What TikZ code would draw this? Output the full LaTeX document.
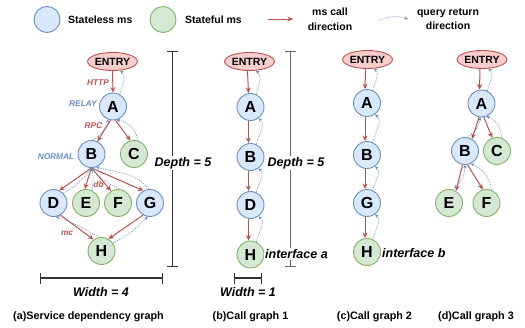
\documentclass[tikz,border=0pt]{standalone}
\usepackage{fontspec}
\setmainfont{Liberation Sans}
\usetikzlibrary{arrows.meta,shapes.geometric}

\definecolor{slF}{HTML}{DAE8FC}
\definecolor{slB}{HTML}{6C8EBF}
\definecolor{sfF}{HTML}{D5E8D4}
\definecolor{sfB}{HTML}{82B366}
\definecolor{enF}{HTML}{F8CECC}
\definecolor{enB}{HTML}{B85450}
\definecolor{callred}{HTML}{B85450}
\definecolor{retblue}{HTML}{6C8EBF}
\definecolor{barA}{HTML}{333333}
\definecolor{barB}{HTML}{666666}

\tikzset{
  sl/.style={circle, draw=slB, fill=slF, line width=0.9pt, minimum size=27pt, inner sep=0pt,
    font=\fontsize{16}{16}\selectfont\bfseries},
  sf/.style={circle, draw=sfB, fill=sfF, line width=0.9pt, minimum size=27pt, inner sep=0pt,
    font=\fontsize{16}{16}\selectfont\bfseries},
  entry/.style={ellipse, draw=enB, fill=enF, line width=0.9pt, minimum width=41pt, minimum height=18pt,
    inner sep=0pt, font=\fontsize{10.5}{10.5}\selectfont\bfseries},
  call/.style={draw=callred, line width=1pt, -{Stealth[length=5.5pt,width=5pt]}},
  ret/.style={draw=retblue, line width=0.6pt, dash pattern=on 1.2pt off 1.2pt,
    -{Stealth[length=3.5pt,width=3.5pt]}},
  legendtxt/.style={font=\fontsize{10.5}{14.5}\selectfont\bfseries, inner sep=0pt},
  captxt/.style={font=\fontsize{10.8}{12}\selectfont\bfseries, inner sep=0pt},
  measure/.style={font=\fontsize{12.5}{12.5}\selectfont\bfseries\itshape, inner sep=1pt},
  redlab/.style={font=\fontsize{8.3}{8.3}\selectfont\bfseries\itshape, text=callred, inner sep=0pt},
  bluelab/.style={font=\fontsize{8.3}{8.3}\selectfont\bfseries\itshape, text=retblue, inner sep=0pt},
  bar/.style={line width=1.1pt, {Bar[width=11pt]}-{Bar[width=11pt]}},
}

% one call hop straight down plus its dotted return hop
\newcommand{\chainpair}[2]{%
  \draw[call] ([xshift=-2pt]#1.south) -- ([xshift=-2pt]#2.north);
  \draw[ret] (#2.65) to[out=80,in=-40] (#1.-55);
}

\begin{document}
\begin{tikzpicture}[x=1pt,y=1pt]
\useasboundingbox (0,0) rectangle (525,-327);

% ---------- legend ----------
\node[sl, minimum size=26pt] (lgSl) at (47,-19.5) {};
\node[legendtxt, anchor=west] (lgSlT) at (68,-19.5) {Stateless ms};
\node[sf, minimum size=26pt] (lgSf) at (163,-19.5) {};
\node[legendtxt, anchor=west] (lgSfT) at (185,-19.5) {Stateful ms};
\coordinate (lgC1) at (268,-19);
\coordinate (lgC2) at (293,-19);
\draw[call] (lgC1) -- (lgC2);
\node[legendtxt, align=center] (lgCT) at (330,-19) {ms call\\direction};
\coordinate (lgR1) at (380,-20);
\coordinate (lgR2) at (408,-19);
\draw[ret] (lgR1) to[bend left=20] (lgR2);
\node[legendtxt, align=center] (lgRT) at (448,-19) {query return\\direction};

% ---------- (a) service dependency graph ----------
\node[entry] (aEN) at (112.5,-61.5) {ENTRY};
\node[sl] (aA) at (113,-106.5) {A};
\node[sl] (aB) at (91.5,-154) {B};
\node[sf] (aC) at (134,-154) {C};
\node[sl] (aD) at (53.5,-203) {D};
\node[sf] (aE) at (86,-203) {E};
\node[sf] (aF) at (118,-203) {F};
\node[sl] (aG) at (150,-203) {G};
\node[sf] (aH) at (101.5,-251) {H};

\draw[call] (aEN.south) -- (aA.north);
\draw[ret] (aA.60) to[out=80,in=-40] (aEN.-50);

\draw[call] (aA.-100) -- (aB.65);
\draw[call] (aA.-80) -- (aC.105);
\draw[ret] (aB.85) to[bend right=20] (aA.-110);
\draw[ret] (aC.75) to[out=95,in=-10] (aA.-75);

\coordinate (aBs) at (aB.-90);
\draw[call] (aBs) -- (aD.65);
\draw[call] (aBs) -- (aE.95);
\draw[call] (aBs) -- (aF.120);
\draw[call] (aBs) -- (aG.118);
\draw[ret] (aD.45) to[bend right=12] (aBs);
\draw[ret] (aE.65) to[bend right=12] (aBs);
\draw[ret] (aF.85) to[bend left=12] (aBs);
\draw[ret] (aG.95) to[out=130,in=-15] (aB.-70);

\draw[call] (aD.-60) -- (aH.125);
\draw[ret] (aH.100) to[bend right=6] (aD.-80);
\draw[call] (aG.-120) -- (aH.60);
\draw[ret] (aH.35) to[bend right=10] (aG.-100);

\node[redlab] (lbHttp) at (98,-83) {HTTP};
\node[bluelab] (lbRelay) at (83,-104) {RELAY};
\node[redlab] (lbRpc) at (93.5,-126) {RPC};
\node[bluelab] (lbNormal) at (56,-157) {NORMAL};
\node[redlab] (lbDb) at (98.5,-185) {db};
\node[redlab] (lbMc) at (67,-233) {mc};

\coordinate (aDt) at (172.5,-51);
\coordinate (aDb) at (172.5,-267);
\draw[bar, draw=barA] (aDt) -- (aDb);
\node[measure, fill=white] (aDepth) at (183,-163) {Depth = 5};
\coordinate (aWl) at (40,-278);
\coordinate (aWr) at (163,-278);
\draw[bar, draw=barA] (aWl) -- (aWr);
\node[measure] (aWidth) at (101,-292) {Width = 4};
\node[captxt] (aCap) at (88.5,-317) {(a)Service dependency graph};

% ---------- (b) call graph 1 ----------
\node[entry] (bEN) at (249.5,-61.5) {ENTRY};
\node[sl] (bA) at (250.5,-107) {A};
\node[sl] (bB) at (250.5,-157) {B};
\node[sl] (bD) at (250.5,-205) {D};
\node[sf] (bH) at (250.5,-254.5) {H};
\chainpair{bEN}{bA}
\chainpair{bA}{bB}
\chainpair{bB}{bD}
\chainpair{bD}{bH}

\coordinate (bDt) at (290.5,-51);
\coordinate (bDb) at (290.5,-267);
\draw[bar, draw=barB] (bDt) -- (bDb);
\node[measure, fill=white] (bDepth) at (296,-163) {Depth = 5};
\node[measure, fill=white, anchor=west] (bIf) at (264,-254) {interface a};
\coordinate (bWl) at (234,-278);
\coordinate (bWr) at (262,-278);
\draw[bar, draw=barA] (bWl) -- (bWr);
\node[measure] (bWidth) at (248,-292) {Width = 1};
\node[captxt] (bCap) at (250.5,-317) {(b)Call graph 1};

% ---------- (c) call graph 2 ----------
\node[entry] (cEN) at (367.5,-59.5) {ENTRY};
\node[sl] (cA) at (367,-103) {A};
\node[sl] (cB) at (367,-155) {B};
\node[sl] (cG) at (367,-203) {G};
\node[sf] (cH) at (367,-252) {H};
\chainpair{cEN}{cA}
\chainpair{cA}{cB}
\chainpair{cB}{cG}
\chainpair{cG}{cH}
\node[measure, anchor=west] (cIf) at (381,-253) {interface b};
\node[captxt] (cCap) at (374.5,-317) {(c)Call graph 2};

% ---------- (d) call graph 3 ----------
\node[entry] (dEN) at (482,-59.5) {ENTRY};
\node[sl] (dA) at (481.5,-103.5) {A};
\node[sl] (dB) at (465,-151) {B};
\node[sf] (dC) at (497,-151) {C};
\node[sf] (dE) at (449,-203) {E};
\node[sf] (dF) at (486.5,-203) {F};
\chainpair{dEN}{dA}
\draw[call] (dA.-100) -- (dB.60);
\draw[call] (dA.-80) -- (dC.110);
\draw[ret] (dB.80) to[bend right=25] (dA.-95);
\draw[ret] (dC.70) to[out=95,in=-15] (dA.-70);
\draw[call] (dB.-100) -- (dE.60);
\draw[call] (dB.-80) -- (dF.105);
\draw[ret] (dE.75) to[bend right=25] (dB.-90);
\draw[ret] (dF.70) to[out=95,in=-25] (dB.-65);
\node[captxt] (dCap) at (476,-317) {(d)Call graph 3};

\end{tikzpicture}
\end{document}
